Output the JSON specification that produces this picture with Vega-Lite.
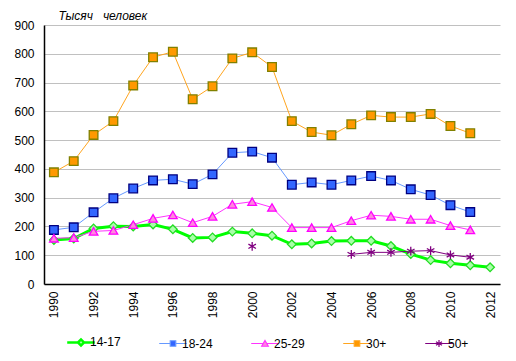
{
  "$schema": "https://vega.github.io/schema/vega-lite/v6.json",
  "autosize": {"type": "none"},
  "width": 456,
  "height": 259,
  "padding": {"left": 44, "top": 25, "right": 16, "bottom": 77},
  "background": "white",
  "config": {
    "font": "Liberation Sans",
    "view": {"stroke": null},
    "axis": {"labelFont": "Liberation Sans", "labelFontSize": 12, "labelColor": "black", "domainColor": "black", "domainWidth": 1.5, "ticks": false}
  },
  "data": {"values": [
    {"year": 1990, "series": "14-17", "value": 153}, {"year": 1991, "series": "14-17", "value": 158}, {"year": 1992, "series": "14-17", "value": 193}, {"year": 1993, "series": "14-17", "value": 201}, {"year": 1994, "series": "14-17", "value": 200}, {"year": 1995, "series": "14-17", "value": 207}, {"year": 1996, "series": "14-17", "value": 190}, {"year": 1997, "series": "14-17", "value": 160}, {"year": 1998, "series": "14-17", "value": 162}, {"year": 1999, "series": "14-17", "value": 182}, {"year": 2000, "series": "14-17", "value": 176}, {"year": 2001, "series": "14-17", "value": 168}, {"year": 2002, "series": "14-17", "value": 138}, {"year": 2003, "series": "14-17", "value": 141}, {"year": 2004, "series": "14-17", "value": 149}, {"year": 2005, "series": "14-17", "value": 150}, {"year": 2006, "series": "14-17", "value": 150}, {"year": 2007, "series": "14-17", "value": 132}, {"year": 2008, "series": "14-17", "value": 104}, {"year": 2009, "series": "14-17", "value": 83}, {"year": 2010, "series": "14-17", "value": 72}, {"year": 2011, "series": "14-17", "value": 65}, {"year": 2012, "series": "14-17", "value": 58},
    {"year": 1990, "series": "18-24", "value": 188}, {"year": 1991, "series": "18-24", "value": 197}, {"year": 1992, "series": "18-24", "value": 249}, {"year": 1993, "series": "18-24", "value": 298}, {"year": 1994, "series": "18-24", "value": 332}, {"year": 1995, "series": "18-24", "value": 360}, {"year": 1996, "series": "18-24", "value": 364}, {"year": 1997, "series": "18-24", "value": 347}, {"year": 1998, "series": "18-24", "value": 381}, {"year": 1999, "series": "18-24", "value": 456}, {"year": 2000, "series": "18-24", "value": 460}, {"year": 2001, "series": "18-24", "value": 439}, {"year": 2002, "series": "18-24", "value": 345}, {"year": 2003, "series": "18-24", "value": 353}, {"year": 2004, "series": "18-24", "value": 345}, {"year": 2005, "series": "18-24", "value": 360}, {"year": 2006, "series": "18-24", "value": 375}, {"year": 2007, "series": "18-24", "value": 360}, {"year": 2008, "series": "18-24", "value": 329}, {"year": 2009, "series": "18-24", "value": 309}, {"year": 2010, "series": "18-24", "value": 274}, {"year": 2011, "series": "18-24", "value": 250},
    {"year": 1990, "series": "25-29", "value": 159}, {"year": 1991, "series": "25-29", "value": 161}, {"year": 1992, "series": "25-29", "value": 183}, {"year": 1993, "series": "25-29", "value": 186}, {"year": 1994, "series": "25-29", "value": 206}, {"year": 1995, "series": "25-29", "value": 228}, {"year": 1996, "series": "25-29", "value": 240}, {"year": 1997, "series": "25-29", "value": 213}, {"year": 1998, "series": "25-29", "value": 235}, {"year": 1999, "series": "25-29", "value": 277}, {"year": 2000, "series": "25-29", "value": 286}, {"year": 2001, "series": "25-29", "value": 266}, {"year": 2002, "series": "25-29", "value": 196}, {"year": 2003, "series": "25-29", "value": 196}, {"year": 2004, "series": "25-29", "value": 196}, {"year": 2005, "series": "25-29", "value": 220}, {"year": 2006, "series": "25-29", "value": 239}, {"year": 2007, "series": "25-29", "value": 235}, {"year": 2008, "series": "25-29", "value": 225}, {"year": 2009, "series": "25-29", "value": 225}, {"year": 2010, "series": "25-29", "value": 203}, {"year": 2011, "series": "25-29", "value": 188},
    {"year": 1990, "series": "30+", "value": 388}, {"year": 1991, "series": "30+", "value": 427}, {"year": 1992, "series": "30+", "value": 518}, {"year": 1993, "series": "30+", "value": 566}, {"year": 1994, "series": "30+", "value": 690}, {"year": 1995, "series": "30+", "value": 788}, {"year": 1996, "series": "30+", "value": 807}, {"year": 1997, "series": "30+", "value": 642}, {"year": 1998, "series": "30+", "value": 687}, {"year": 1999, "series": "30+", "value": 784}, {"year": 2000, "series": "30+", "value": 805}, {"year": 2001, "series": "30+", "value": 754}, {"year": 2002, "series": "30+", "value": 566}, {"year": 2003, "series": "30+", "value": 528}, {"year": 2004, "series": "30+", "value": 517}, {"year": 2005, "series": "30+", "value": 555}, {"year": 2006, "series": "30+", "value": 586}, {"year": 2007, "series": "30+", "value": 580}, {"year": 2008, "series": "30+", "value": 580}, {"year": 2009, "series": "30+", "value": 591}, {"year": 2010, "series": "30+", "value": 549}, {"year": 2011, "series": "30+", "value": 524},
    {"year": 2000, "series": "50+", "value": 131}, {"year": 2001, "series": "50+", "value": null}, {"year": 2002, "series": "50+", "value": null}, {"year": 2003, "series": "50+", "value": null}, {"year": 2004, "series": "50+", "value": null}, {"year": 2005, "series": "50+", "value": 103}, {"year": 2006, "series": "50+", "value": 110}, {"year": 2007, "series": "50+", "value": 110}, {"year": 2008, "series": "50+", "value": 114}, {"year": 2009, "series": "50+", "value": 116}, {"year": 2010, "series": "50+", "value": 101}, {"year": 2011, "series": "50+", "value": 93}
  ]},
  "encoding": {
    "x": {"field": "year", "type": "ordinal", "sort": "ascending",
      "axis": {"title": null, "labelAngle": 270, "labelPadding": 7, "values": [1990, 1992, 1994, 1996, 1998, 2000, 2002, 2004, 2006, 2008, 2010, 2012], "grid": false}},
    "y": {"field": "value", "type": "quantitative",
      "scale": {"domain": [0, 900], "nice": false},
      "axis": {"title": "Тысяч\u00a0\u00a0 человек", "titleFont": "Liberation Sans", "titleFontSize": 12, "titleFontStyle": "italic", "titleFontWeight": "normal", "titleAngle": 0, "titleAlign": "left", "titleBaseline": "alphabetic", "titleX": 14, "titleY": -6, "values": [0, 100, 200, 300, 400, 500, 600, 700, 800, 900], "labelPadding": 10, "grid": true, "gridColor": "#C0C0C0", "gridWidth": 1}}
  },
  "layer": [
    {
      "mark": {"type": "line", "invalid": "break-paths-show-domains"},
      "encoding": {
        "stroke": {"field": "series", "type": "nominal",
          "scale": {"domain": ["14-17", "18-24", "25-29", "30+", "50+"], "range": ["#00FF00", "#6699FF", "#FF33FF", "#FFA51F", "#800080"]},
          "legend": {"title": null, "orient": "none", "direction": "horizontal", "legendX": 31, "legendY": 311, "symbolSize": 760, "symbolOpacity": 1, "labelFont": "Liberation Sans", "labelFontSize": 12, "labelColor": "black", "labelOffset": 3, "columnPadding": 35, "padding": 0,
            "encode": {"symbols": {"update": {
              "shape": {"signal": "datum.value === '14-17' ? 'M-1,0H-0.22M0.22,0H1M-0.22,0L0,-0.22L0.22,0L0,0.22Z' : datum.value === '25-29' ? 'M-1,0H-0.13M0.13,0H1M0,-0.22L0.24,0.2H-0.24Z' : datum.value === '50+' ? 'M-1,0H1M0,-0.25V0.25M-0.22,-0.13L0.22,0.13M-0.22,0.13L0.22,-0.13' : 'M-1,0H-0.2M0.2,0H1M-0.2,-0.2H0.2V0.2H-0.2Z'"},
              "fill": {"signal": "datum.value === '14-17' ? '#A8FFA8' : datum.value === '18-24' ? '#3366FF' : datum.value === '25-29' ? '#FF88DD' : datum.value === '30+' ? '#FF9900' : 'transparent'"},
              "stroke": {"signal": "datum.value === '14-17' ? '#00FF00' : datum.value === '18-24' ? '#3366FF' : datum.value === '25-29' ? '#FF00FF' : datum.value === '30+' ? '#FF9900' : '#800080'"},
              "strokeWidth": {"signal": "datum.value === '14-17' ? 2.5 : 1.2"}
            }}}
          }},
        "strokeWidth": {"condition": {"test": "datum.series === '14-17'", "value": 3}, "value": 1}
      }
    },
    {
      "mark": {"type": "point", "filled": true, "opacity": 1, "size": 75, "strokeWidth": 1.3},
      "encoding": {
        "fill": {"field": "series", "type": "nominal", "legend": null,
          "scale": {"domain": ["14-17", "18-24", "25-29", "30+", "50+"], "range": ["#A8FFA8", "#3366FF", "#FF88DD", "#FF9900", "transparent"]}},
        "stroke": {"field": "series", "type": "nominal", "legend": null,
          "scale": {"domain": ["14-17", "18-24", "25-29", "30+", "50+"], "range": ["#22DD22", "#000080", "#FF00FF", "#808000", "#800080"]}},
        "shape": {"field": "series", "type": "nominal", "legend": null,
          "scale": {"domain": ["14-17", "18-24", "25-29", "30+", "50+"], "range": ["diamond", "square", "triangle-up", "square", "M0,-1V1M-0.87,-0.5L0.87,0.5M-0.87,0.5L0.87,-0.5"]}}
      }
    }
  ],
  "resolve": {"scale": {"stroke": "independent"}}
}
